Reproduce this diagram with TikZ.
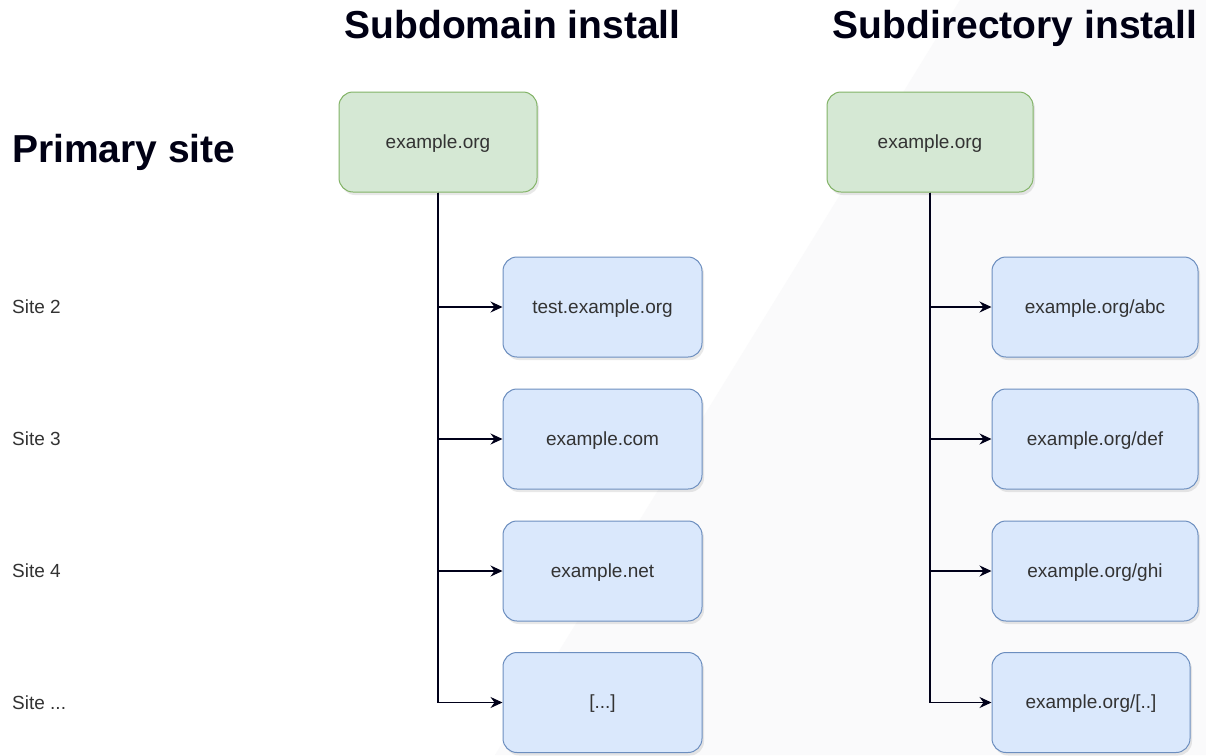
\documentclass[tikz,border=0pt]{standalone}
\usepackage{fontspec}
\setmainfont{Liberation Sans}
\usetikzlibrary{shadows,arrows.meta}

\definecolor{greenfill}{HTML}{D5E8D4}
\definecolor{greenline}{HTML}{82B366}
\definecolor{bluefill}{HTML}{DAE8FC}
\definecolor{blueline}{HTML}{6C8EBF}
\definecolor{textgray}{HTML}{333333}
\definecolor{backgray}{HTML}{FAFAFB}

\tikzset{
  sitebox/.style={rounded corners=14pt, draw, line width=1pt, minimum height=100pt,
    text=textgray, font=\fontsize{19}{22}\selectfont, text height=15pt, text depth=3pt,
    drop shadow={shadow xshift=2pt, shadow yshift=-3pt, opacity=0.18}},
  primary/.style={sitebox, fill=greenfill, draw=greenline},
  child/.style={sitebox, fill=bluefill, draw=blueline},
  heading/.style={font=\bfseries\fontsize{39}{44}\selectfont, text=black!92!blue, inner sep=0pt, anchor=base},
  rowlabel/.style={font=\fontsize{19}{22}\selectfont, text=textgray, inner sep=0pt, anchor=base west},
  link/.style={line width=1.2pt, black!90!blue, -{Stealth[length=12pt, width=11pt, inset=4pt]}},
}

\begin{document}
\begin{tikzpicture}[x=1pt, y=-1pt]
  \useasboundingbox (0, 0) rectangle (1206, 755);
  \fill[white] (0, 0) rectangle (1206, 755);
  \fill[backgray] (960, 0) -- (1206, 0) -- (1206, 755) -- (495, 755) -- cycle;

  % headings
  \node[heading] (subdomain) at (512.5, 38) {Subdomain install};
  \node[heading] (subdirectory) at (1015, 38) {Subdirectory install};
  \node[heading, anchor=base west] (primary) at (12, 162) {Primary site};

  % rows
  \node[rowlabel] (row2) at (12, 313) {Site 2};
  \node[rowlabel] (row3) at (12, 445) {Site 3};
  \node[rowlabel] (row4) at (12, 577) {Site 4};
  \node[rowlabel] (rowmore) at (12, 709) {Site ...};

  % subdomain install
  \node[primary, minimum width=198pt] (sdroot) at (438, 142) {example.org};
  \node[child, minimum width=199pt] (sd2) at (602.5, 307) {test.example.org};
  \node[child, minimum width=199pt] (sd3) at (602.5, 439) {example.com};
  \node[child, minimum width=199pt] (sd4) at (602.5, 571) {example.net};
  \node[child, minimum width=199pt] (sdmore) at (602.5, 702.5) {[...]};

  % subdirectory install
  \node[primary, minimum width=206pt] (sfroot) at (930, 142) {example.org};
  \node[child, minimum width=206pt] (sf2) at (1095, 307) {example.org/abc};
  \node[child, minimum width=206pt] (sf3) at (1095, 439) {example.org/def};
  \node[child, minimum width=206pt] (sf4) at (1095, 571) {example.org/ghi};
  \node[child, minimum width=198pt] (sfmore) at (1091, 702.5) {example.org/[..]};

  \foreach \n in {sd2, sd3, sd4, sdmore}
    \draw[link] (sdroot.south) |- (\n.west);
  \foreach \n in {sf2, sf3, sf4, sfmore}
    \draw[link] (sfroot.south) |- (\n.west);
\end{tikzpicture}
\end{document}
